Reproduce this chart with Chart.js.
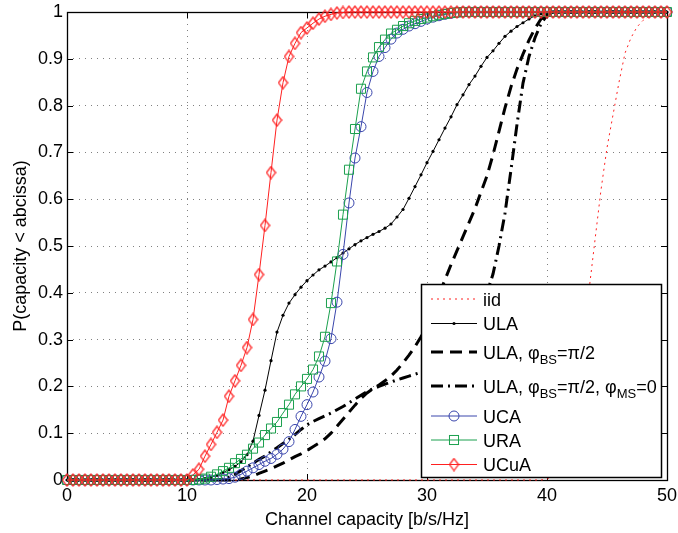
<!DOCTYPE html>
<html>
<head>
<meta charset="utf-8">
<script src="https://cdn.jsdelivr.net/npm/chart.js@4.4.0/dist/chart.umd.min.js"></script>
<style>
html, body { margin: 0; padding: 0; background: #fff; }
#wrap { width: 678px; height: 533px; }
</style>
</head>
<body>
<div id="wrap"><canvas id="chartCdf" width="678" height="533"></canvas></div>
<script>
// Capacita' del canale (asse x), passo 0.5 b/s/Hz
const capacity = [
    0, 0.5, 1, 1.5, 2, 2.5, 3, 3.5, 4, 4.5,
    5, 5.5, 6, 6.5, 7, 7.5, 8, 8.5, 9, 9.5,
    10, 10.5, 11, 11.5, 12, 12.5, 13, 13.5, 14, 14.5,
    15, 15.5, 16, 16.5, 17, 17.5, 18, 18.5, 19, 19.5,
    20, 20.5, 21, 21.5, 22, 22.5, 23, 23.5, 24, 24.5,
    25, 25.5, 26, 26.5, 27, 27.5, 28, 28.5, 29, 29.5,
    30, 30.5, 31, 31.5, 32, 32.5, 33, 33.5, 34, 34.5,
    35, 35.5, 36, 36.5, 37, 37.5, 38, 38.5, 39, 39.5,
    40, 40.5, 41, 41.5, 42, 42.5, 43, 43.5, 44, 44.5,
    45, 45.5, 46, 46.5, 47, 47.5, 48, 48.5, 49, 49.5,
    50
];

// CDF
const iid = [
    0, 0, 0, 0, 0, 0, 0, 0, 0, 0,
    0, 0, 0, 0, 0, 0, 0, 0, 0, 0,
    0, 0, 0, 0, 0, 0, 0, 0, 0, 0,
    0, 0, 0, 0, 0, 0, 0, 0, 0, 0,
    0, 0, 0, 0, 0, 0, 0, 0, 0, 0,
    0, 0, 0, 0, 0, 0, 0, 0, 0, 0,
    0, 0, 0, 0, 0, 0, 0, 0, 0, 0,
    0, 0, 0, 0, 0, 0, 0, 0, 0, 0,
    .002, .008, .025, .060, .120, .200, .300, .405, .513, .620,
    .710, .780, .850, .912, .945, .968, .982, .991, .997, .999,
    1
];

const ula = [
    0, 0, 0, 0, 0, 0, 0, 0, 0, 0,
    0, 0, 0, 0, 0, 0, 0, 0, 0, 0,
    0, 0, .001, .003, .006, .010, .016, .022, .029, .039,
    .054, .083, .138, .192, .255, .316, .352, .378, .396, .412,
    .426, .438, .449, .457, .466, .475, .485, .494, .503, .511,
    .518, .525, .531, .538, .547, .562, .578, .602, .627, .652,
    .678, .702, .727, .752, .776, .802, .823, .845, .863, .884,
    .903, .917, .933, .948, .959, .969, .977, .985, .992, .996,
    .999, 1, 1, 1, 1, 1, 1, 1, 1, 1,
    1, 1, 1, 1, 1, 1, 1, 1, 1, 1,
    1
];

const ulaBs = [
    0, 0, 0, 0, 0, 0, 0, 0, 0, 0,
    0, 0, 0, 0, 0, 0, 0, 0, 0, 0,
    0, 0, 0, 0, 0, 0, 0, 0, 0, .002,
    .005, .009, .014, .019, .024, .030, .036, .043, .050, .056,
    .063, .071, .079, .088, .100, .115, .130, .145, .160, .174,
    .186, .195, .203, .212, .222, .235, .250, .267, .285, .306,
    .330, .360, .395, .428, .460, .490, .520, .550, .580, .615,
    .650, .695, .745, .795, .840, .878, .910, .940, .965, .985,
    .996, 1, 1, 1, 1, 1, 1, 1, 1, 1,
    1, 1, 1, 1, 1, 1, 1, 1, 1, 1,
    1
];

const ulaBsMs = [
    0, 0, 0, 0, 0, 0, 0, 0, 0, 0,
    0, 0, 0, 0, 0, 0, 0, 0, 0, 0,
    0, 0, 0, 0, 0, 0, .002, .006, .012, .020,
    .028, .036, .044, .051, .060, .069, .078, .087, .097, .108,
    .118, .125, .131, .137, .143, .150, .157, .165, .173, .181,
    .189, .195, .200, .205, .209, .214, .218, .222, .226, .230,
    .234, .240, .250, .262, .276, .292, .310, .330, .352, .375,
    .400, .440, .500, .570, .663, .760, .848, .905, .945, .975,
    .993, 1, 1, 1, 1, 1, 1, 1, 1, 1,
    1, 1, 1, 1, 1, 1, 1, 1, 1, 1,
    1
];

const uca = [
    0, 0, 0, 0, 0, 0, 0, 0, 0, 0,
    0, 0, 0, 0, 0, 0, 0, 0, 0, 0,
    0, 0, 0, 0, 0, .001, .002, .003, .006, .012,
    .019, .026, .033, .040, .046, .055, .066, .082, .108, .136,
    .161, .188, .220, .254, .302, .380, .482, .592, .688, .755,
    .828, .873, .905, .924, .942, .955, .963, .970, .975, .980,
    .985, .989, .992, .995, .997, .999, 1, 1, 1, 1,
    1, 1, 1, 1, 1, 1, 1, 1, 1, 1,
    1, 1, 1, 1, 1, 1, 1, 1, 1, 1,
    1, 1, 1, 1, 1, 1, 1, 1, 1, 1,
    1
];

const ura = [
    0, 0, 0, 0, 0, 0, 0, 0, 0, 0,
    0, 0, 0, 0, 0, 0, 0, 0, 0, 0,
    0, 0, .001, .003, .007, .012, .019, .026, .036, .045,
    .054, .067, .080, .096, .110, .124, .143, .161, .183, .200,
    .216, .236, .264, .306, .378, .467, .567, .663, .750, .836,
    .873, .903, .925, .941, .954, .962, .970, .976, .981, .985,
    .988, .991, .994, .996, .998, .999, 1, 1, 1, 1,
    1, 1, 1, 1, 1, 1, 1, 1, 1, 1,
    1, 1, 1, 1, 1, 1, 1, 1, 1, 1,
    1, 1, 1, 1, 1, 1, 1, 1, 1, 1,
    1
];

const ucua = [
    0, 0, 0, 0, 0, 0, 0, 0, 0, 0,
    0, 0, 0, 0, 0, 0, 0, 0, 0, 0,
    0, .011, .023, .051, .076, .102, .128, .179, .212, .245,
    .283, .343, .439, .544, .657, .769, .849, .905, .933, .956,
    .966, .976, .985, .991, .995, .998, .999, 1, 1, 1,
    1, 1, 1, 1, 1, 1, 1, 1, 1, 1,
    1, 1, 1, 1, 1, 1, 1, 1, 1, 1,
    1, 1, 1, 1, 1, 1, 1, 1, 1, 1,
    1, 1, 1, 1, 1, 1, 1, 1, 1, 1,
    1, 1, 1, 1, 1, 1, 1, 1, 1, 1,
    1
];

const xTicks = [0, 10, 20, 30, 40, 50];
const yTicks = [0, 0.1, 0.2, 0.3, 0.4, 0.5, 0.6, 0.7, 0.8, 0.9, 1];

// Testi legenda: [testo, pedice?]
const legendLabels = [
    [['iid']],
    [['ULA']],
    [['ULA, \u03c6'], ['BS', true], ['=\u03c0/2']],
    [['ULA, \u03c6'], ['BS', true], ['=\u03c0/2, \u03c6'], ['MS', true], ['=0']],
    [['UCA']],
    [['URA']],
    [['UCuA']]
];

const FONT = '"Liberation Sans", Arial, Helvetica, sans-serif';
const BLUE = '#3a46ac';
const GREEN = '#1ba04e';
const RED = '#ff2020';

// Rombo stile MATLAB (piu' alto che largo)
function makeDiamond(color, w, h) {
    const c = document.createElement('canvas');
    c.width = w + 2;
    c.height = h + 2;
    const g = c.getContext('2d');
    g.strokeStyle = color;
    g.lineWidth = 1.25;
    g.beginPath();
    g.moveTo(c.width / 2, 1);
    g.lineTo(c.width - 1, c.height / 2);
    g.lineTo(c.width / 2, c.height - 1);
    g.lineTo(1, c.height / 2);
    g.closePath();
    g.stroke();
    return c;
}
const diamond = makeDiamond(RED, 9, 12);

const toPoints = ys => capacity.map((c, i) => ({ x: c, y: ys[i] }));

const datasets = [
    { label: 'iid', data: toPoints(iid), borderColor: RED, borderWidth: 1, borderDash: [2, 4], pointRadius: 0, order: 7 },
    { label: 'ULA', data: toPoints(ula), borderColor: '#000', borderWidth: 1, pointRadius: 1.6, pointBackgroundColor: '#000', pointBorderWidth: 0, order: 6 },
    { label: 'ULA, phiBS=pi/2', data: toPoints(ulaBs), borderColor: '#000', borderWidth: 3, borderDash: [12, 7], pointRadius: 0, order: 5 },
    { label: 'ULA, phiBS=pi/2, phiMS=0', data: toPoints(ulaBsMs), borderColor: '#000', borderWidth: 3, borderDash: [12, 5, 2, 5], pointRadius: 0, order: 4 },
    { label: 'UCA', data: toPoints(uca), borderColor: BLUE, borderWidth: 1, pointStyle: 'circle', pointRadius: 5, pointBorderColor: BLUE, pointBackgroundColor: 'rgba(0,0,0,0)', pointBorderWidth: 1, order: 3 },
    { label: 'URA', data: toPoints(ura), borderColor: GREEN, borderWidth: 1, pointStyle: 'rect', pointRadius: 6.4, pointBorderColor: GREEN, pointBackgroundColor: 'rgba(0,0,0,0)', pointBorderWidth: 1, order: 2 },
    { label: 'UCuA', data: toPoints(ucua), borderColor: RED, borderWidth: 1, pointStyle: diamond, pointRadius: 6, order: 1 }
];
datasets.forEach(d => { d.clip = false; d.tension = 0; d.fill = false; });

// Cornice degli assi con tacche interne (sotto i dati, come MATLAB)
const axesBox = {
    id: 'axesBox',
    beforeDatasetsDraw(chart) {
        const { ctx, chartArea: a, scales: { x, y } } = chart;
        ctx.save();
        ctx.strokeStyle = '#000';
        ctx.lineWidth = 1;
        ctx.beginPath();
        xTicks.forEach(v => {
            const px = Math.round(x.getPixelForValue(v)) + 0.5;
            ctx.moveTo(px, a.bottom); ctx.lineTo(px, a.bottom - 6);
            ctx.moveTo(px, a.top); ctx.lineTo(px, a.top + 6);
        });
        yTicks.forEach(v => {
            const py = Math.round(y.getPixelForValue(v)) + 0.5;
            ctx.moveTo(a.left, py); ctx.lineTo(a.left + 6, py);
            ctx.moveTo(a.right, py); ctx.lineTo(a.right - 6, py);
        });
        ctx.stroke();
        ctx.lineWidth = 1.3;
        ctx.strokeRect(Math.round(a.left) + 0.5, Math.round(a.top) + 0.5,
            Math.round(a.right - a.left), Math.round(a.bottom - a.top));
        ctx.restore();
    }
};

// Legenda disegnata dentro l'area del grafico
const legendBox = {
    id: 'legendBox',
    afterDatasetsDraw(chart) {
        const { ctx } = chart;
        const box = { left: 421.5, top: 284.5, right: 661.5, bottom: 477.5 };
        const rowY = [299, 323.5, 352, 386, 416, 440, 464.5];
        const x1 = 431, x2 = 477, xm = 454, tx = 483;
        ctx.save();
        ctx.fillStyle = '#fff';
        ctx.fillRect(box.left, box.top, box.right - box.left, box.bottom - box.top);
        ctx.strokeStyle = '#000';
        ctx.lineWidth = 1.5;
        ctx.strokeRect(box.left, box.top, box.right - box.left, box.bottom - box.top);

        chart.data.datasets.forEach((ds, i) => {
            const y = rowY[i];
            ctx.save();
            ctx.strokeStyle = ds.borderColor;
            ctx.lineWidth = ds.borderWidth;
            ctx.setLineDash(ds.borderDash || []);
            ctx.beginPath();
            ctx.moveTo(x1, y);
            ctx.lineTo(x2, y);
            ctx.stroke();
            ctx.setLineDash([]);
            ctx.lineWidth = 1;
            if (ds.pointStyle === 'circle') {
                ctx.strokeStyle = ds.pointBorderColor;
                ctx.beginPath();
                ctx.arc(xm, y, ds.pointRadius, 0, Math.PI * 2);
                ctx.stroke();
            } else if (ds.pointStyle === 'rect') {
                const s = ds.pointRadius / Math.SQRT2;
                ctx.strokeStyle = ds.pointBorderColor;
                ctx.strokeRect(xm - s, y - s, 2 * s, 2 * s);
            } else if (ds.pointStyle instanceof HTMLCanvasElement) {
                ctx.drawImage(ds.pointStyle, xm - ds.pointStyle.width / 2, y - ds.pointStyle.height / 2);
            } else if (ds.pointRadius > 0) {
                ctx.fillStyle = ds.pointBackgroundColor;
                ctx.beginPath();
                ctx.arc(xm, y, ds.pointRadius, 0, Math.PI * 2);
                ctx.fill();
            }
            ctx.restore();

            // testo con pedici
            let cx = tx;
            const base = y + 6.5;
            ctx.fillStyle = '#000';
            ctx.textBaseline = 'alphabetic';
            ctx.textAlign = 'left';
            legendLabels[i].forEach(([t, sub]) => {
                ctx.font = (sub ? '13px ' : '18px ') + FONT;
                ctx.fillText(t, cx, sub ? base + 5.5 : base);
                cx += ctx.measureText(t).width;
            });
        });
        ctx.restore();
    }
};

const tickFmt = v => String(Math.round(v * 10) / 10);

new Chart(document.getElementById('chartCdf'), {
    type: 'line',
    data: { datasets: datasets },
    options: {
        responsive: false,
        animation: false,
        devicePixelRatio: 1,
        layout: { padding: { top: 12, right: 11, left: 0, bottom: 0 } },
        plugins: {
            legend: { display: false },
            tooltip: { enabled: false }
        },
        scales: {
            x: {
                type: 'linear',
                min: 0,
                max: 50,
                afterFit: s => { s.height = 53; s.paddingLeft = 0; s.paddingRight = 0; },
                ticks: { stepSize: 10, padding: 5, color: '#000', maxRotation: 0, font: { family: FONT, size: 18 }, callback: tickFmt },
                grid: { color: '#808080', lineWidth: 1, drawTicks: false },
                border: { display: false, dash: [1, 5] },
                title: { display: true, text: 'Channel capacity [b/s/Hz]', color: '#000', font: { family: FONT, size: 18 }, padding: { top: 0, bottom: 2 } }
            },
            y: {
                min: 0,
                max: 1,
                afterFit: s => { s.width = 67; s.paddingTop = 0; s.paddingBottom = 0; },
                ticks: { stepSize: 0.1, padding: 4, color: '#000', font: { family: FONT, size: 18 }, callback: tickFmt },
                grid: { color: '#808080', lineWidth: 1, drawTicks: false },
                border: { display: false, dash: [1, 5] },
                title: { display: true, text: 'P(capacity < abcissa)', color: '#000', font: { family: FONT, size: 18 }, padding: { top: 10, bottom: 0 } }
            }
        }
    },
    plugins: [axesBox, legendBox]
});
</script>
</body>
</html>
